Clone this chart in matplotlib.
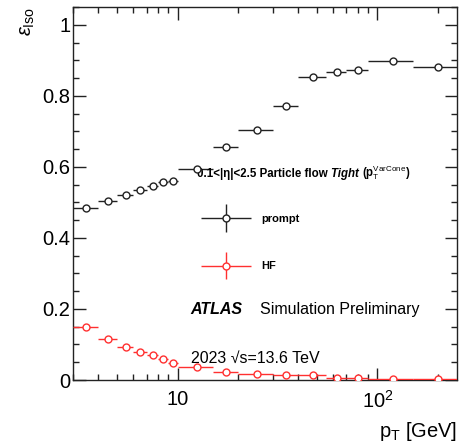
import numpy as np
import matplotlib
matplotlib.use("Agg")
import matplotlib.pyplot as plt
from matplotlib.container import ErrorbarContainer
from matplotlib.legend_handler import HandlerErrorbar
from matplotlib.ticker import MultipleLocator, LogLocator, NullFormatter, FixedLocator, FixedFormatter

plt.rcParams['font.family'] = ['Liberation Sans', 'DejaVu Sans']
plt.rcParams['mathtext.fontset'] = 'custom'
plt.rcParams['mathtext.rm'] = 'Liberation Sans'
plt.rcParams['mathtext.it'] = 'Liberation Sans:italic'
plt.rcParams['mathtext.bf'] = 'Liberation Sans:bold'

# ---- data ----
bin_edges = [3, 4, 5, 6, 7, 8, 9, 10, 15, 20, 30, 40, 55, 70, 90, 150, 250]
eff_prompt = [0.484, 0.503, 0.522, 0.534, 0.547, 0.556, 0.560, 0.594, 0.656,
              0.705, 0.771, 0.854, 0.866, 0.874, 0.897, 0.880]
eff_hf = [0.149, 0.116, 0.094, 0.078, 0.069, 0.058, 0.049, 0.036, 0.023,
          0.017, 0.015, 0.013, 0.006, 0.006, 0.004, 0.004]
err_prompt = [0.002] * 16
err_hf = [0.002] * 16

edges = np.array(bin_edges, dtype=float)
centers = 0.5 * (edges[:-1] + edges[1:])
xerr = [centers - edges[:-1], edges[1:] - centers]

black = '#222222'
red = '#ff3030'

fig = plt.figure(figsize=(4.60, 4.44), dpi=100)
ax = fig.add_axes([73/460, 64/444, 384/460, 373/444])

ep = ax.errorbar(centers, eff_prompt, xerr=xerr, yerr=err_prompt, fmt='o', color=black,
                 mfc='white', mec=black, ms=5, mew=1.0, elinewidth=1.0, capsize=0,
                 label='prompt', zorder=3)
eh = ax.errorbar(centers, eff_hf, xerr=xerr, yerr=err_hf, fmt='o', color=red,
                 mfc='white', mec=red, ms=5, mew=1.0, elinewidth=1.0, capsize=0,
                 label='HF', zorder=3)

ax.set_xscale('log')
ax.set_xlim(3, 250)
ax.set_ylim(0, 1.05)

ax.yaxis.set_major_locator(MultipleLocator(0.2))
ax.yaxis.set_minor_locator(MultipleLocator(0.05))
ax.yaxis.set_major_formatter(matplotlib.ticker.FuncFormatter(
    lambda v, p: '0' if abs(v) < 1e-9 else ('1' if abs(v - 1) < 1e-9 else f'{v:.1f}')))

ax.xaxis.set_major_locator(FixedLocator([10, 100]))
ax.xaxis.set_major_formatter(FixedFormatter(['10', r'$10^{2}$']))
ax.xaxis.set_minor_locator(LogLocator(base=10, subs=np.arange(2, 10), numticks=20))
ax.xaxis.set_minor_formatter(NullFormatter())

ax.tick_params(which='both', direction='in', top=True, right=True, width=1.0, color='#222222')
ax.tick_params(which='major', length=9)
ax.tick_params(which='minor', length=4.5)
ax.tick_params(axis='y', which='major', labelsize=14.5, pad=2)
ax.tick_params(axis='x', which='major', labelsize=14.5, pad=7)
for s in ax.spines.values():
    s.set_linewidth(1.0)
    s.set_color('#222222')

ax.set_xlabel(r'p$_{\mathrm{T}}$ [GeV]', fontsize=14.5, loc='right', labelpad=6)
ax.set_ylabel(r'$\epsilon_{\mathrm{Iso}}$', fontsize=14.5, loc='top', labelpad=4)

# header text, pieces placed side by side on a common baseline
hx, hy = 0.322, 0.545
hfs = 8.3
t1 = ax.text(hx, hy, '0.1<|η|<2.5 Particle flow ', transform=ax.transAxes,
             fontsize=hfs, fontweight='bold', va='baseline', ha='left')
t2 = ax.text(hx, hy, 'Tight ', transform=ax.transAxes, fontsize=hfs, fontweight='bold',
             fontstyle='italic', va='baseline', ha='left')
t3 = ax.text(hx, hy, r'(p$_{\mathrm{T}}^{\mathrm{VarCone}}$)', transform=ax.transAxes,
             fontsize=hfs, fontweight='bold', va='baseline', ha='left')
fig.canvas.draw()
r = fig.canvas.get_renderer()
inv = ax.transAxes.inverted()
x_disp = ax.transAxes.transform((hx, hy))[0]
w1 = t1.get_window_extent(r).width
w2 = t2.get_window_extent(r).width
t2.set_x(inv.transform((x_disp + w1, 0))[0])
t3.set_x(inv.transform((x_disp + w1 + w2, 0))[0])

leg = ax.legend(handles=[ep, eh], labels=['prompt', 'HF'], loc='upper left',
                bbox_to_anchor=(0.333, 0.446), frameon=False,
                prop={'weight': 'bold', 'size': 8}, handlelength=4.5,
                labelspacing=3.4, handletextpad=0.9, borderpad=0, borderaxespad=0,
                handler_map={ErrorbarContainer: HandlerErrorbar(xerr_size=2.25, yerr_size=1.25)})

ax.text(0.306, 0.178, 'ATLAS', transform=ax.transAxes, fontsize=11.5,
        fontweight='bold', fontstyle='italic', va='baseline')
ax.text(0.486, 0.178, 'Simulation Preliminary', transform=ax.transAxes, fontsize=11.5,
        va='baseline')
ax.text(0.306, 0.046, '2023 √s=13.6 TeV', transform=ax.transAxes, fontsize=11.5,
        va='baseline')

fig.savefig('out.png', dpi=100)
